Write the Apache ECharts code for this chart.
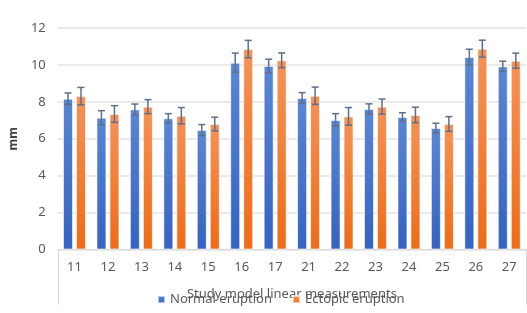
<!DOCTYPE html>
<html>
<head>
<meta charset="utf-8">
<script src="https://cdn.jsdelivr.net/npm/echarts@6/dist/echarts.min.js"></script>
<style>
  html, body { margin: 0; padding: 0; background: #fff; }
  #chart { width: 527px; height: 313px; }
</style>
</head>
<body>
<div id="chart"></div>
<script>
// teeth, mean values (mm) and standard error
const teeth = ['11', '12', '13', '14', '15', '16', '17', '21', '22', '23', '24', '25', '26', '27'];
const normalMean = [8.17, 7.14, 7.59, 7.11, 6.47, 10.12, 9.94, 8.21, 7.02, 7.61, 7.18, 6.58, 10.43, 9.92];
const normalErr = [0.31, 0.38, 0.29, 0.25, 0.30, 0.52, 0.37, 0.29, 0.34, 0.28, 0.23, 0.26, 0.42, 0.28];
const ectopicMean = [8.31, 7.34, 7.74, 7.25, 6.80, 10.86, 10.25, 8.33, 7.21, 7.74, 7.29, 6.80, 10.88, 10.23];
const ectopicErr = [0.47, 0.45, 0.38, 0.44, 0.37, 0.47, 0.40, 0.47, 0.48, 0.41, 0.42, 0.40, 0.46, 0.41];
const yTicks = [0, 2, 4, 6, 8, 10, 12];

const FONT = 'Noto Sans';
const BAR_W = 10;
const OFFSETS = [-6.5, 6.5];

function grad(top, bottom) {
    return new echarts.graphic.LinearGradient(0, 0, 0, 1, [
        { offset: 0, color: top },
        { offset: 1, color: bottom }
    ]);
}

// whisker series for one group of bars
function errorSeries(means, errs, k) {
    return {
        type: 'custom',
        silent: true,
        z: 5,
        data: means.map((m, i) => [i, m - errs[i], m + errs[i]]),
        renderItem: function (params, api) {
            const lo = api.coord([api.value(0), api.value(1)]);
            const hi = api.coord([api.value(0), api.value(2)]);
            const x = lo[0] + OFFSETS[k];
            const cap = 3.5;
            const style = { stroke: '#5f6f88', lineWidth: 1.5 };
            return {
                type: 'group',
                children: [
                    { type: 'line', shape: { x1: x, y1: hi[1], x2: x, y2: lo[1] }, style: style },
                    { type: 'line', shape: { x1: x - cap, y1: hi[1], x2: x + cap, y2: hi[1] }, style: style },
                    { type: 'line', shape: { x1: x - cap, y1: lo[1], x2: x + cap, y2: lo[1] }, style: style }
                ]
            };
        }
    };
}

const chart = echarts.init(document.getElementById('chart'));
chart.setOption({
    animation: false,
    textStyle: { fontFamily: FONT },
    grid: { left: 57, right: 1, top: 28, bottom: 63.5 },
    legend: {
        left: 152,
        top: 288,
        itemWidth: 7,
        itemHeight: 7,
        itemGap: 20,
        icon: 'rect',
        textStyle: { color: '#595959', fontSize: 13, fontFamily: FONT },
        data: ['Normal eruption', 'Ectopic eruption']
    },
    xAxis: {
        type: 'category',
        data: teeth,
        name: 'Study model linear measurements',
        nameLocation: 'middle',
        nameGap: 38,
        nameTextStyle: { color: '#595959', fontSize: 13, fontFamily: FONT },
        axisLine: { lineStyle: { color: '#d9d9d9', width: 1 } },
        axisTick: {
            show: true,
            length: 55,
            interval: function (index) { return index === 0; },
            lineStyle: { color: '#d9d9d9' }
        },
        axisLabel: { color: '#595959', fontSize: 13, margin: 11, fontFamily: FONT }
    },
    yAxis: {
        type: 'value',
        min: yTicks[0],
        max: yTicks[yTicks.length - 1],
        interval: 2,
        name: 'mm',
        nameLocation: 'middle',
        nameRotate: 90,
        nameGap: 37,
        nameTextStyle: { color: '#404040', fontSize: 12, fontWeight: 'bold', fontFamily: FONT },
        axisLine: { show: false },
        axisTick: { show: false },
        axisLabel: { color: '#595959', fontSize: 13, margin: 12, fontFamily: FONT },
        splitLine: { lineStyle: { color: '#e3e3e3', width: 1.5 } }
    },
    series: [
        {
            name: 'Normal eruption',
            type: 'bar',
            barWidth: BAR_W,
            barGap: '30%',
            data: normalMean,
            itemStyle: {
                color: grad('#5b86d2', '#3762be'),
                borderColor: 'rgba(255,255,255,0.6)',
                borderWidth: 1
            }
        },
        {
            name: 'Ectopic eruption',
            type: 'bar',
            barWidth: BAR_W,
            data: ectopicMean,
            itemStyle: {
                color: grad('#f3935a', '#ea6d1b'),
                borderColor: 'rgba(255,255,255,0.6)',
                borderWidth: 1
            }
        },
        errorSeries(normalMean, normalErr, 0),
        errorSeries(ectopicMean, ectopicErr, 1)
    ]
});
</script>
</body>
</html>
